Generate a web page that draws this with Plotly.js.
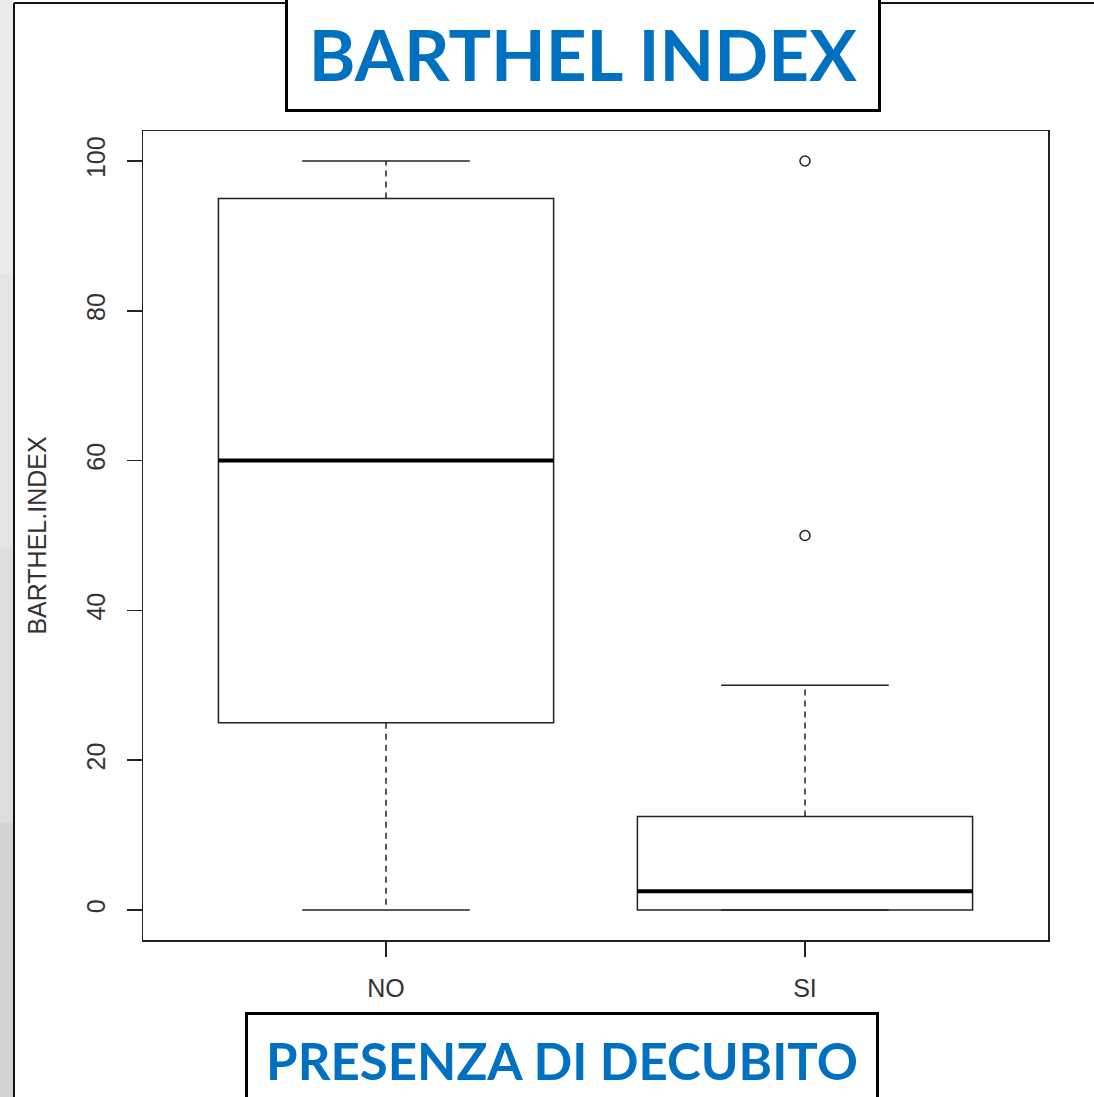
<!DOCTYPE html>
<html>
<head>
<meta charset="utf-8">
<script src="https://cdn.plot.ly/plotly-3.0.1.min.js"></script>
<style>
  html, body { margin: 0; padding: 0; background: #ffffff; }
  #chart { width: 1094px; height: 1097px; }
</style>
</head>
<body>
<div id="chart"></div>
<script>
// Barthel index by presence of pressure ulcer (decubito)
const groups = ['NO', 'SI'];
const groupPos = [1, 2];
const lowerWhisker = [0, 0];
const q1 = [25, 0];
const median = [60, 2.5];
const q3 = [95, 12.5];
const upperWhisker = [100, 30];
const outlierGroup = [2, 2];
const outlierValue = [50, 100];
const yTicks = [0, 20, 40, 60, 80, 100];

const BOX_W = 0.8;   // box width in axis units
const CAP_W = 0.4;   // whisker cap width in axis units
const INK = '#222222';

// Segment builders (null separates groups)
function hSegments(vals, half) {
  const x = [], y = [];
  groupPos.forEach((p, i) => { x.push(p - half, p + half, null); y.push(vals[i], vals[i], null); });
  return { x, y };
}
function vSegments(from, to) {
  const x = [], y = [];
  groupPos.forEach((p, i) => { x.push(p, p, null); y.push(from[i], to[i], null); });
  return { x, y };
}

const upW = vSegments(q3, upperWhisker);
const loW = vSegments(q1, lowerWhisker);
const upCap = hSegments(upperWhisker, CAP_W / 2);
const loCap = hSegments(lowerWhisker, CAP_W / 2);
const med = hSegments(median, BOX_W / 2);

const traces = [
  { type: 'scatter', mode: 'lines', x: upW.x.concat(loW.x), y: upW.y.concat(loW.y),
    line: { color: INK, width: 1.5, dash: '6px,5px' }, hoverinfo: 'skip', showlegend: false },
  { type: 'scatter', mode: 'lines', x: upCap.x.concat(loCap.x), y: upCap.y.concat(loCap.y),
    line: { color: INK, width: 1.5 }, hoverinfo: 'skip', showlegend: false },
  { type: 'box', x: groupPos, q1: q1, median: median, q3: q3,
    lowerfence: q1, upperfence: q3, width: BOX_W, whiskerwidth: 0,
    fillcolor: '#ffffff', line: { color: INK, width: 1.5 },
    boxpoints: false, hoverinfo: 'skip', showlegend: false },
  { type: 'scatter', mode: 'lines', x: med.x, y: med.y,
    line: { color: '#000000', width: 4 }, hoverinfo: 'skip', showlegend: false },
  { type: 'scatter', mode: 'markers', x: outlierGroup, y: outlierValue,
    marker: { symbol: 'circle-open', size: 10, color: INK, line: { width: 1.5, color: INK } },
    hoverinfo: 'skip', showlegend: false }
];

// Plot area in page pixels, for placing the slide frame and caption boxes
const L = 143, R = 1048, T = 131, B = 940, W = 1094, H = 1097;
const px = v => (v - L) / (R - L);
const py = v => (B - v) / (B - T);

const shapes = [];
// grey strip on the left edge
const strip = ['#e9eaeb', '#e4e5e6', '#dcddde', '#d2d3d4'];
strip.forEach((c, i) => {
  shapes.push({ type: 'rect', xref: 'paper', yref: 'paper', layer: 'below',
    x0: px(0), x1: px(13), y0: py(i * H / 4), y1: py((i + 1) * H / 4 + 1),
    fillcolor: c, line: { width: 0 } });
});
// slide frame lines
shapes.push({ type: 'line', xref: 'paper', yref: 'paper', x0: px(14), x1: px(14), y0: py(3), y1: py(H + 5),
  line: { color: '#111111', width: 2 } });
shapes.push({ type: 'line', xref: 'paper', yref: 'paper', x0: px(14), x1: px(W + 5), y0: py(3), y1: py(3),
  line: { color: '#111111', width: 2 } });

const annotations = [
  { xref: 'paper', yref: 'paper', x: px(583), y: py(53), xanchor: 'center', yanchor: 'middle',
    text: '<b>BARTHEL INDEX</b>', showarrow: false,
    font: { family: 'Lato, "Open Sans", sans-serif', size: 71, color: '#0070C0' },
    bgcolor: '#ffffff', bordercolor: '#000000', borderwidth: 3, borderpad: 0,
    width: 590, height: 112 },
  { xref: 'paper', yref: 'paper', x: px(562), y: py(1060), xanchor: 'center', yanchor: 'middle',
    text: '<b>PRESENZA DI DECUBITO</b>', showarrow: false,
    font: { family: 'Lato, "Open Sans", sans-serif', size: 51, color: '#0070C0' },
    bgcolor: '#ffffff', bordercolor: '#000000', borderwidth: 3, borderpad: 0,
    width: 628, height: 90 }
];

const tickFont = { family: '"Liberation Sans", Arial, sans-serif', size: 25, color: '#333333' };

const layout = {
  width: W, height: H,
  margin: { l: L, r: W - R, t: T, b: H - B, pad: 0 },
  paper_bgcolor: '#ffffff', plot_bgcolor: '#ffffff',
  showlegend: false,
  xaxis: {
    range: [0.42, 2.58], tickvals: groupPos, ticktext: groups,
    showgrid: false, zeroline: false,
    showline: true, mirror: true, linecolor: INK, linewidth: 1.5,
    ticks: 'outside', ticklen: 15, tickwidth: 1.5, tickcolor: INK,
    tickfont: tickFont, ticklabelstandoff: 10
  },
  yaxis: {
    range: [-4, 104], tickvals: yTicks, ticktext: yTicks.map(String),
    showgrid: false, zeroline: false,
    showline: true, mirror: true, linecolor: INK, linewidth: 1.5,
    ticks: 'outside', ticklen: 15, tickwidth: 1.5, tickcolor: INK,
    tickangle: -90, tickfont: tickFont, ticklabelstandoff: 12,
    title: { text: 'BARTHEL.INDEX', font: tickFont, standoff: 28 }
  },
  shapes: shapes,
  annotations: annotations
};

Plotly.newPlot('chart', traces, layout, { staticPlot: true, displayModeBar: false });
</script>
</body>
</html>
